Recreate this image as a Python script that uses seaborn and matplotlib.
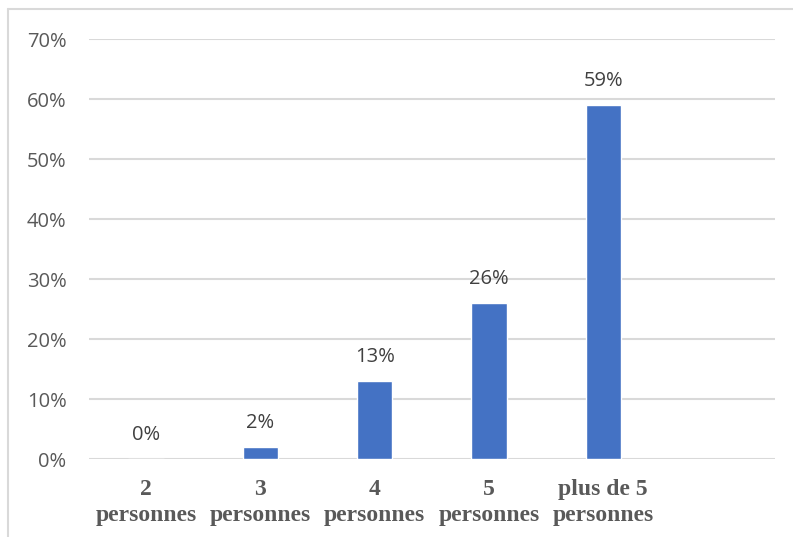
import matplotlib
matplotlib.use("Agg")
import matplotlib.pyplot as plt
import matplotlib.lines as mlines
import pandas as pd
import seaborn as sns

categories = ["2\npersonnes", "3\npersonnes", "4\npersonnes", "5\npersonnes", "plus de 5\npersonnes"]
values = [0, 2, 13, 26, 59]
yticks = [0, 10, 20, 30, 40, 50, 60, 70]

bar_color = "#4472C4"
grid_color = "#d9d9d9"
text_color = "#595959"

sns.set_theme(style="white")
plt.rcParams["font.family"] = ["Open Sans", "DejaVu Sans"]

df = pd.DataFrame({"cat": categories, "val": values})

fig = plt.figure(figsize=(7.93, 5.37), dpi=100)
ax = fig.add_axes([0.112, 0.145, 0.865, 0.782])

sns.barplot(data=df, x="cat", y="val", color=bar_color, width=0.31,
            saturation=1, ax=ax, zorder=3)

ax.set_xlim(-0.5, 5.5)
ax.set_ylim(0, 70)
ax.set_yticks(yticks)
ax.set_yticklabels([f"{t}%" for t in yticks], fontsize=14.5, color=text_color)
ax.yaxis.grid(True, color=grid_color, linewidth=1.5, zorder=0)
ax.tick_params(axis="y", length=0, pad=16)
ax.tick_params(axis="x", length=0, pad=14)
for lab in ax.get_xticklabels():
    lab.set_fontfamily("Liberation Serif")
    lab.set_fontweight("bold")
    lab.set_fontsize(17)
    lab.set_color(text_color)
    lab.set_linespacing(1.35)
ax.set_xlabel("")
ax.set_ylabel("")
for s in ax.spines.values():
    s.set_visible(False)

ax.bar_label(ax.containers[0], labels=[f"{v}%" for v in values],
             padding=10, fontsize=14.5, color="#404040")

# cadre du graphique (haut et gauche seulement visibles)
fig.add_artist(mlines.Line2D([8 / 793, 1], [1 - 9 / 537, 1 - 9 / 537],
                             color=grid_color, linewidth=1.5))
fig.add_artist(mlines.Line2D([8 / 793, 8 / 793], [0, 1 - 9 / 537],
                             color=grid_color, linewidth=1.5))

fig.savefig("out.png", dpi=100)
